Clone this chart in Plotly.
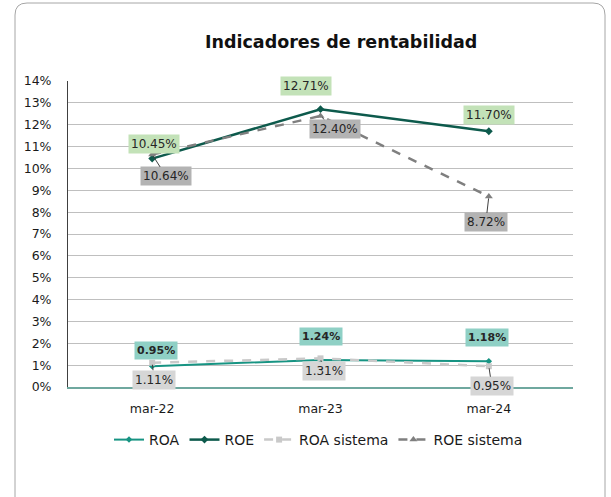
import plotly.graph_objects as go

categories = ["mar-22", "mar-23", "mar-24"]
roa = [0.95, 1.24, 1.18]
roe = [10.45, 12.71, 11.70]
roa_sistema = [1.11, 1.31, 0.95]
roe_sistema = [10.64, 12.40, 8.72]
y_ticks = list(range(0, 15))
y_tick_labels = [f"{v}%" for v in y_ticks]

FONT = "DejaVu Sans"

fig = go.Figure()
series = [
    ("ROA", roa, dict(color="#179483", width=2), dict(symbol="diamond", size=5, color="#179483")),
    ("ROE", roe, dict(color="#0d5a4c", width=2.5), dict(symbol="diamond", size=6, color="#0d5a4c")),
    ("ROA sistema", roa_sistema, dict(color="#c9c9c9", width=2.5, dash="dash"), dict(symbol="square", size=6, color="#c9c9c9")),
    ("ROE sistema", roe_sistema, dict(color="#7f7f7f", width=2.5, dash="dash"), dict(symbol="triangle-up", size=7, color="#7f7f7f")),
]
for name, vals, line, marker in series:
    fig.add_trace(go.Scatter(x=categories, y=vals, name=name, mode="lines+markers",
                             line=line, marker=marker))

# data labels: (series values, bg color, bold, offsets(px) per point, leader)
label_specs = [
    (roe, "#c3e2b8", False, [(2, -15), (-15, -23), (0, -16)], False),
    (roe_sistema, "#b3b3b3", False, [(14, 22), (14, 13), (-3, 26)], True),
    (roa, "#8fd0c5", True, [(4, -16), (0, -23), (-2, -24)], False),
    (roa_sistema, "#d6d6d6", False, [(2, 17), (3, 13), (3, 20)], True),
]
for vals, bg, bold, offs, leader in label_specs:
    for cat, v, (dx, dy) in zip(categories, vals, offs):
        txt = f"{v:.2f}%"
        if bold:
            txt = f"<b>{txt}</b>"
        fnt = dict(family=FONT, size=12 if not bold else 11, color="#262626")
        if leader:
            fig.add_annotation(x=cat, y=v, xref="x", yref="y", text=txt,
                               showarrow=True, ax=dx, ay=dy, arrowhead=0,
                               arrowwidth=1, arrowcolor="#404040", standoff=2,
                               bgcolor=bg, borderpad=2, font=fnt)
        else:
            fig.add_annotation(x=cat, y=v, xref="x", yref="y", text=txt,
                               showarrow=False, xshift=dx, yshift=-dy,
                               bgcolor=bg, borderpad=2, font=fnt)

def px_x(p):
    return (p - 68) / 505

def px_y(p):
    return (387 - p) / 306

# title
fig.add_annotation(x=px_x(341), y=px_y(42), xref="paper", yref="paper",
                   text="<b>Indicadores de rentabilidad</b>", showarrow=False,
                   font=dict(family=FONT, size=17.5, color="#111111"),
                   xanchor="center", yanchor="middle")

# card border with rounded corners
x0, x1 = px_x(15), px_x(605)
yt, yb = px_y(3), px_y(515)
rx, ry = 12 / 505, 12 / 306
path = (f"M {x0} {yb} L {x0} {yt - ry} Q {x0} {yt} {x0 + rx} {yt} "
        f"L {x1 - rx} {yt} Q {x1} {yt} {x1} {yt - ry} L {x1} {yb}")
fig.add_shape(type="path", path=path, xref="paper", yref="paper",
              line=dict(color="#a6a6a6", width=1), layer="below")

fig.update_layout(
    width=611, height=497,
    margin=dict(l=68, r=38, t=81, b=110),
    paper_bgcolor="white", plot_bgcolor="white",
    font=dict(family=FONT, size=12, color="#1a1a1a"),
    showlegend=True,
    legend=dict(orientation="h", x=px_x(109), y=px_y(440), xanchor="left", yanchor="middle",
                font=dict(family=FONT, size=14, color="#1a1a1a"),
                itemwidth=30, tracegroupgap=0, bgcolor="rgba(0,0,0,0)"),
    xaxis=dict(type="category", range=[-0.5, 2.5], showgrid=False,
               showline=True, linecolor="#6fa89f", linewidth=1.5,
               ticks="", ticklabelstandoff=9,
               tickfont=dict(family=FONT, size=12.5, color="#1a1a1a")),
    yaxis=dict(range=[0, 14], tickvals=y_ticks, ticktext=y_tick_labels,
               showgrid=True, gridcolor="#bfbfbf", gridwidth=1,
               showline=True, linecolor="#404040", linewidth=1,
               zeroline=False, ticks="", ticklabelstandoff=13,
               tickfont=dict(family=FONT, size=12.5, color="#1a1a1a")),
)

fig.write_html("out.html", config={"displayModeBar": False},
               post_script="document.body.style.margin='0';document.body.style.padding='0';")
